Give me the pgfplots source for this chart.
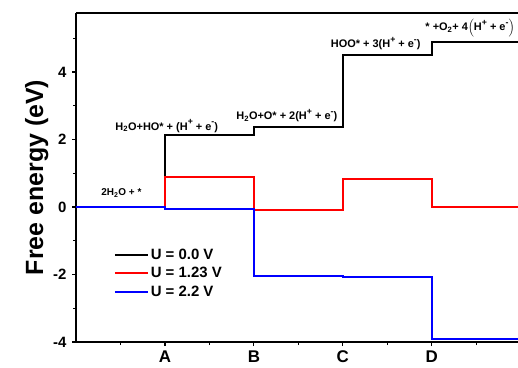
\documentclass[border=0pt]{standalone}
\usepackage{pgfplots}
\pgfplotsset{compat=1.18}
\usepackage{fontspec}
\setmainfont{Liberation Sans}
\newcommand{\sub}[1]{\textsubscript{#1}}
\newcommand{\sups}[1]{\raisebox{0.9ex}{\scalebox{0.8}{#1}}}
\begin{document}
\begin{tikzpicture}
\begin{axis}[
  scale only axis,
  width=442bp, height=329bp,
  xmin=0, xmax=4.97, ymin=-4, ymax=5.75,
  axis x line=box, axis y line=left,
  axis line style={line width=1.6pt, -},
  xtick={1,2,3,4}, xticklabels={A,B,C,D},
  minor xtick={0.5,1.5,2.5,3.5,4.5},
  ytick={-4,-2,0,2,4}, minor ytick={-3,-1,1,3,5},
  tick align=outside,
  tick pos=left,
  major tick length=4bp, minor tick length=3bp,
  every tick/.style={line width=1.2pt, black},
  /pgf/number format/assume math mode=true,
  xticklabel style={font=\fontsize{17}{17}\selectfont\bfseries, yshift=-1bp},
  yticklabel style={font=\fontsize{15}{15}\selectfont\bfseries, xshift=-2bp},
  ylabel={\bfseries Free energy (eV)},
  ylabel style={font=\fontsize{25}{25}\selectfont, yshift=-2bp},
  legend style={at={(0.085,0.29)}, anchor=north west, draw=none, fill=none,
    font=\fontsize{15}{15}\selectfont\bfseries, row sep=2.5bp, inner sep=0pt},
  legend cell align=left,
  legend image code/.code={\draw[#1] (0bp,0bp) -- (33bp,0bp);},
  clip=true,
]
\addplot[const plot, black, line width=2pt] coordinates {(0,0) (1,2.13) (2,2.37) (3,4.51) (4,4.89) (5,4.89)};
\addlegendentry{U = 0.0 V}
\addplot[const plot, red, line width=2pt] coordinates {(0,0) (1,0.90) (2,-0.09) (3,0.82) (4,0.0) (5,0.0)};
\addlegendentry{U = 1.23 V}
\addplot[const plot, blue, line width=2pt] coordinates {(0,0) (1,-0.05) (2,-2.03) (3,-2.07) (4,-3.90) (5,-3.90)};
\addlegendentry{U = 2.2 V}
\coordinate (sw) at (rel axis cs:0,0);
\coordinate (ne) at (rel axis cs:1,1);
\node[font=\fontsize{10}{10}\selectfont\bfseries] at (axis cs:0.51,0.42) {2H\sub{2}O + *};
\node[font=\fontsize{11}{11}\selectfont\bfseries] at (axis cs:1.02,2.40) {H\sub{2}O+HO* + (H\sups{+} + e\sups{-})};
\node[font=\fontsize{11}{11}\selectfont\bfseries] at (axis cs:2.37,2.70) {H\sub{2}O+O* + 2(H\sups{+} + e\sups{-})};
\node[font=\fontsize{11}{11}\selectfont\bfseries] at (axis cs:3.37,4.84) {HOO* + 3(H\sups{+} + e\sups{-})};
\node[font=\fontsize{11}{11}\selectfont\bfseries] at (axis cs:4.43,5.30) {* +O\sub{2}+ 4\Big(H\sups{+} + e\sups{-}\Big)};
\end{axis}
\pgfresetboundingbox
\path ([shift={(-76bp,-26bp)}]sw) rectangle ([shift={(0bp,13bp)}]ne);
\end{tikzpicture}
\end{document}
